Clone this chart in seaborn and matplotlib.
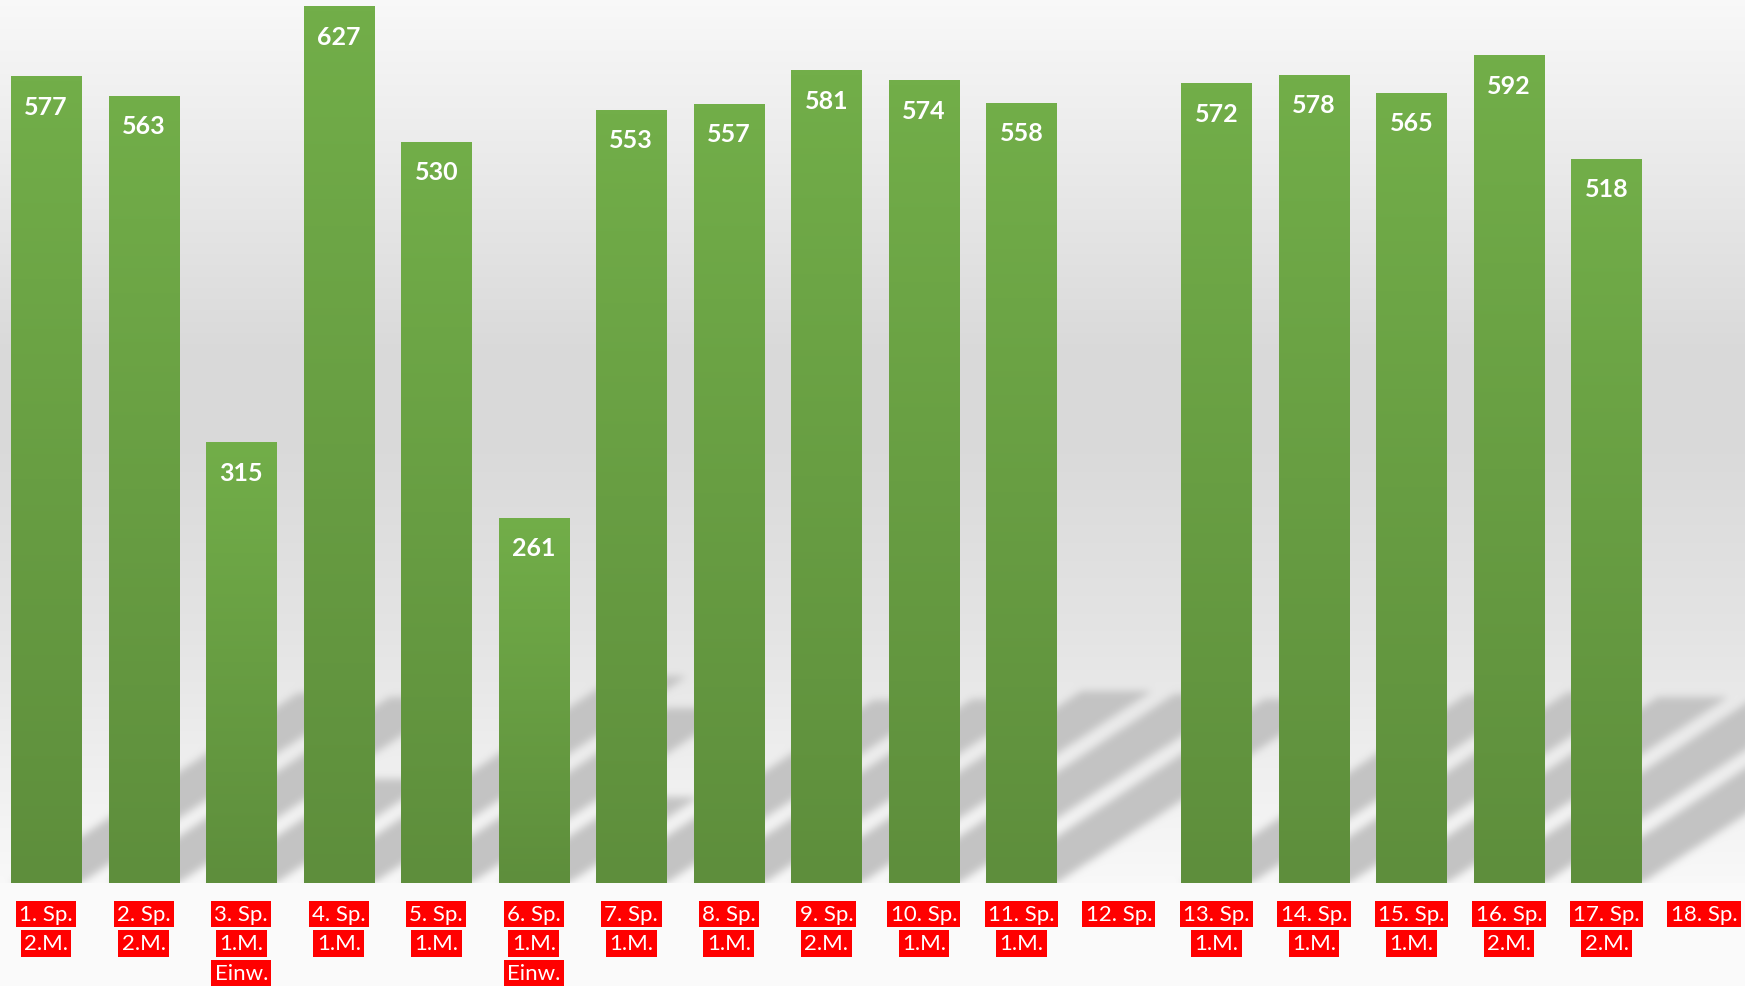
import numpy as np
import pandas as pd
import seaborn as sns
import matplotlib
matplotlib.use("Agg")
import matplotlib.pyplot as plt
from matplotlib.colors import LinearSegmentedColormap

# ---------------- data ----------------
games = ["1. Sp.", "2. Sp.", "3. Sp.", "4. Sp.", "5. Sp.", "6. Sp.", "7. Sp.", "8. Sp.", "9. Sp.",
         "10. Sp.", "11. Sp.", "12. Sp.", "13. Sp.", "14. Sp.", "15. Sp.", "16. Sp.", "17. Sp.", "18. Sp."]
modes = ["2.M.", "2.M.", "1.M.", "1.M.", "1.M.", "1.M.", "1.M.", "1.M.", "2.M.",
         "1.M.", "1.M.", "", "1.M.", "1.M.", "1.M.", "2.M.", "2.M.", ""]
extras = ["", "", "Einw.", "", "", "Einw.", "", "", "",
          "", "", "", "", "", "", "", "", ""]
values = [577, 563, 315, 627, 530, 261, 553, 557, 581,
          574, 558, np.nan, 572, 578, 565, 592, 518, np.nan]

plt.rcParams["font.family"] = ["Lato", "DejaVu Sans"]

n = len(games)
df = pd.DataFrame({"game": games, "value": values})

W_PX, H_PX = 1745, 987
fig = plt.figure(figsize=(W_PX / 100, H_PX / 100), dpi=100)
fig.patch.set_facecolor("#fafafa")

AX_H_PX = 884
ax_left = -2.6 / W_PX
ax_w = 1755.4 / W_PX
ax_bottom = (H_PX - AX_H_PX) / H_PX
ax_h = AX_H_PX / H_PX
ax = fig.add_axes([ax_left, ax_bottom, ax_w, ax_h])

YMAX = AX_H_PX / 1.3986
BAR_W = 0.72
XMIN, XMAX = -0.5, n - 0.5

# ---------------- background gradient + soft shadows ----------------
Hp, Wp = AX_H_PX, 1756
rows = (np.arange(Hp) + 0.5) / Hp            # 0 top -> 1 bottom
stops_t = [0.0, 0.40, 0.50, 0.72, 0.88, 1.0]
stops_v = [0.975, 0.852, 0.852, 0.895, 0.94, 0.975]
bg_col = np.interp(rows, stops_t, stops_v)
bg = np.repeat(bg_col[:, None], Wp, axis=1)

Xc = XMIN + (XMAX - XMIN) * (np.arange(Wp) + 0.5) / Wp
Yc = YMAX * (1 - rows)
X, Y = np.meshgrid(Xc, Yc)
mask = np.zeros((Hp, Wp), dtype=float)
SHEAR = 0.0217          # category units of sideways shift per value unit of height
for i, v in enumerate(values):
    if np.isnan(v):
        continue
    hs = 0.236 * v
    xl, xr = i - BAR_W / 2, i + BAR_W / 2
    inside = (Y >= 0) & (Y <= hs) & (X >= xl + SHEAR * Y) & (X <= xr + SHEAR * Y)
    mask[inside] = 1.0

def gblur(a, sigma):
    r = int(3 * sigma)
    k = np.exp(-0.5 * (np.arange(-r, r + 1) / sigma) ** 2)
    k /= k.sum()
    a = np.apply_along_axis(lambda m: np.convolve(m, k, mode="same"), 0, a)
    a = np.apply_along_axis(lambda m: np.convolve(m, k, mode="same"), 1, a)
    return a

mask = gblur(mask, 4.0)
shade = 0.765
img = bg * (1 - mask) + shade * mask
rgb = np.dstack([img, img, img])
ax.imshow(rgb, extent=(XMIN, XMAX, 0, YMAX), aspect="auto", zorder=0,
          interpolation="bilinear")

# ---------------- bars ----------------
sns.barplot(data=df, x="game", y="value", order=games, color="#5f903d",
            width=BAR_W, ax=ax, zorder=2, errorbar=None, saturation=1)

bar_cmap = LinearSegmentedColormap.from_list("g", ["#5e8e3c", "#72ae49"])
grad = np.linspace(1, 0, 256)[:, None]
for p in ax.patches:
    h = p.get_height()
    if h is None or np.isnan(h) or h <= 0:
        continue
    x0 = p.get_x()
    x1 = x0 + p.get_width()
    p.set_edgecolor("none")
    im = ax.imshow(grad, extent=(x0, x1, 0, h), aspect="auto", cmap=bar_cmap,
                   vmin=0, vmax=1, zorder=3, interpolation="bilinear")
    im.set_clip_path(p)

# value labels
for i, v in enumerate(values):
    if np.isnan(v):
        continue
    ax.annotate(f"{int(v)}", xy=(i, v), xytext=(0, -30 * 0.72), textcoords="offset points",
                ha="center", va="center", color="white", fontsize=18,
                fontweight="bold", zorder=6)

# category labels with red highlight per line
offsets = [31, 60.5, 90]
for i in range(n):
    lines = [s for s in (games[i], modes[i], extras[i]) if s]
    for j, s in enumerate(lines):
        ax.annotate(s, xy=(i, 0), xycoords=("data", "axes fraction"),
                    xytext=(0, -offsets[j] * 0.72), textcoords="offset points",
                    ha="center", va="center", color="white", fontsize=16,
                    annotation_clip=False,
                    bbox=dict(boxstyle="square,pad=0.15", facecolor="#ff0000",
                              edgecolor="none"))

ax.set_xlim(XMIN, XMAX)
ax.set_ylim(0, YMAX)
ax.set_xlabel("")
ax.set_ylabel("")
ax.set_xticks([])
ax.set_yticks([])
for s in ax.spines.values():
    s.set_visible(False)
ax.set_facecolor("none")

fig.savefig("out.png", dpi=100, facecolor=fig.get_facecolor())
